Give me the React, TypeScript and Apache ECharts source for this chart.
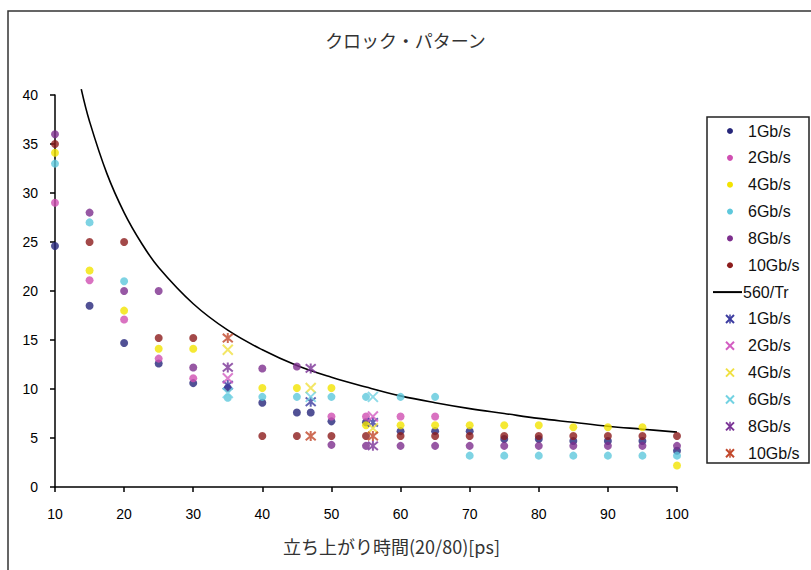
import React, { useEffect, useRef } from "react";
import * as echarts from "echarts";

// ---- data ----
const titleText = "クロック・パターン";
const xAxisName = "立ち上がり時間(20/80)[ps]";
const xTicks = { min: 10, max: 100, interval: 10 };
const yTicks = { min: 0, max: 40, interval: 5 };

const dot1G: [number, number][] = [[10, 24.6], [15, 18.5], [20, 14.7], [25, 12.6], [30, 10.6], [35, 10.1], [40, 8.6], [45, 7.6], [47, 7.6], [50, 6.7], [55, 6.6], [60, 5.7], [65, 5.7], [70, 5.7], [75, 4.9], [80, 4.9], [85, 4.7], [90, 4.7], [95, 4.7], [100, 3.7]];
const dot2G: [number, number][] = [[10, 29], [15, 21.1], [20, 17.1], [25, 13.1], [30, 11.1], [50, 7.2], [55, 7.2], [60, 7.2], [65, 7.2]];
const dot4G: [number, number][] = [[10, 34.1], [15, 22.1], [20, 18], [25, 14.1], [30, 14.1], [40, 10.1], [45, 10.1], [50, 10.1], [55, 6.3], [60, 6.3], [65, 6.3], [70, 6.3], [75, 6.3], [80, 6.3], [85, 6.1], [90, 6.1], [95, 6.1], [100, 2.2]];
const dot6G: [number, number][] = [[10, 33], [15, 27], [20, 21], [35, 9.1], [40, 9.2], [45, 9.2], [50, 9.2], [55, 9.2], [60, 9.2], [65, 9.2], [70, 3.2], [75, 3.2], [80, 3.2], [85, 3.2], [90, 3.2], [95, 3.2], [100, 3.2]];
const dot8G: [number, number][] = [[10, 36], [15, 28], [20, 20], [25, 20], [30, 12.2], [40, 12.1], [45, 12.3], [50, 4.3], [55, 4.2], [60, 4.2], [65, 4.2], [70, 4.2], [75, 4.2], [80, 4.2], [85, 4.2], [90, 4.2], [95, 4.2], [100, 4.2]];
const dot10G: [number, number][] = [[10, 35], [15, 25], [20, 25], [25, 15.2], [30, 15.2], [40, 5.2], [45, 5.2], [50, 5.2], [55, 5.2], [60, 5.2], [65, 5.2], [70, 5.2], [75, 5.2], [80, 5.2], [85, 5.2], [90, 5.2], [95, 5.2], [100, 5.2]];

const curve560: [number, number][] = [[13.8, 40.6], [15, 37.3], [17.5, 32], [20, 28], [22.5, 24.9], [25, 22.4], [30, 18.7], [35, 16], [40, 14], [45, 12.4], [50, 11.2], [55, 10.2], [60, 9.3], [65, 8.6], [70, 8], [75, 7.5], [80, 7], [85, 6.6], [90, 6.2], [95, 5.9], [100, 5.6]];

const x1G: [number, number][] = [[35, 10.4], [47, 8.7], [56, 6.6]];
const x2G: [number, number][] = [[35, 11.1], [56, 7.2]];
const x4G: [number, number][] = [[35, 14], [47, 10.1], [56, 6.0]];
const x6G: [number, number][] = [[35, 9.6], [47, 9.2], [56, 9.2]];
const x8G: [number, number][] = [[35, 12.2], [47, 12.1], [56, 4.2]];
const x10G: [number, number][] = [[35, 15.2], [47, 5.2], [56, 5.2]];

const dotNames = ["1Gb/s", "2Gb/s", "4Gb/s", "6Gb/s", "8Gb/s", "10Gb/s"];
const lineName = "560/Tr";
const crossNames = ["1Gb/s", "2Gb/s", "4Gb/s", "6Gb/s", "8Gb/s", "10Gb/s"];

// ---- styles ----
const dotColors = ["#26267a", "#d04fb2", "#f3e300", "#5ec8dc", "#7d2e8d", "#8c1c1c"];
const crossColors = ["#3c3ca0", "#d35ec2", "#f0e040", "#72d2e2", "#7a3396", "#c2472b"];
const crossIsStar = [true, false, false, false, true, true];
const STAR = "path://M0,0L10,10M10,0L0,10M5,-1L5,11";
const XSYM = "path://M0,0L10,10M10,0L0,10";
const FONT = "'Liberation Sans', Arial, sans-serif";
const CJK = "'Noto Sans CJK JP', 'Noto Sans', sans-serif";

export default function App() {
  const ref = useRef<HTMLDivElement>(null);
  useEffect(() => {
    if (!ref.current) return;
    const chart = echarts.init(ref.current, null, { renderer: "svg" });
    const dotData = [dot1G, dot2G, dot4G, dot6G, dot8G, dot10G];
    const crossData = [x1G, x2G, x4G, x6G, x8G, x10G];

    const series: any[] = [];
    dotData.forEach((d, i) => {
      series.push({
        type: "scatter",
        name: dotNames[i],
        data: d,
        symbol: "circle",
        symbolSize: 8,
        itemStyle: { color: dotColors[i] },
        z: 3,
      });
    });
    series.push({
      type: "line",
      name: lineName,
      data: curve560,
      smooth: 0.4,
      symbol: "none",
      clip: false,
      lineStyle: { color: "#000", width: 1.6 },
      z: 2,
    });
    crossData.forEach((d, i) => {
      series.push({
        type: "scatter",
        name: crossNames[i],
        data: d,
        symbol: crossIsStar[i] ? STAR : XSYM,
        symbolSize: 10,
        itemStyle: { color: crossColors[i], borderColor: crossColors[i], borderWidth: 2 },
        z: 4,
      });
    });

    // custom legend drawn as graphics (duplicate names in the original legend)
    const legendEls: any[] = [];
    const rowY0 = 131;
    const rowStep = 26.85;
    const mx = 730;
    const tx = 748;
    const rows: any[] = [];
    dotNames.forEach((n, i) => rows.push({ kind: "dot", label: n, color: dotColors[i] }));
    rows.push({ kind: "line", label: lineName, color: "#000" });
    crossNames.forEach((n, i) => rows.push({ kind: crossIsStar[i] ? "star" : "x", label: n, color: crossColors[i] }));

    legendEls.push({
      type: "rect",
      shape: { x: 707, y: 117, width: 102, height: 346 },
      style: { fill: "#fff", stroke: "#222", lineWidth: 1.5 },
      z: 10,
    });
    rows.forEach((r, i) => {
      const y = rowY0 + i * rowStep;
      if (r.kind === "dot") {
        legendEls.push({ type: "circle", shape: { cx: mx, cy: y, r: 3 }, style: { fill: r.color }, z: 11 });
      } else if (r.kind === "line") {
        legendEls.push({ type: "line", shape: { x1: 713, y1: y, x2: 742, y2: y }, style: { stroke: "#000", lineWidth: 2 }, z: 11 });
      } else {
        const s = 4;
        legendEls.push({ type: "line", shape: { x1: mx - s, y1: y - s, x2: mx + s, y2: y + s }, style: { stroke: r.color, lineWidth: 2 }, z: 11 });
        legendEls.push({ type: "line", shape: { x1: mx + s, y1: y - s, x2: mx - s, y2: y + s }, style: { stroke: r.color, lineWidth: 2 }, z: 11 });
        if (r.kind === "star") {
          legendEls.push({ type: "line", shape: { x1: mx, y1: y - s - 0.5, x2: mx, y2: y + s + 0.5 }, style: { stroke: r.color, lineWidth: 1.5 }, z: 11 });
        }
      }
      legendEls.push({
        type: "text",
        x: r.kind === "line" ? 743 : tx,
        y,
        style: {
          text: r.label,
          fill: "#111",
          font: `16px ${FONT}`,
          textVerticalAlign: "middle",
          textAlign: "left",
        },
        z: 11,
      });
    });

    chart.setOption({
      animation: false,
      backgroundColor: "#fff",
      title: {
        text: titleText,
        left: "center",
        top: 31,
        padding: [0, 16, 0, 0],
        textStyle: { fontFamily: CJK, fontSize: 18, fontWeight: "normal", color: "#333" },
      },
      grid: { left: 55, right: 134, top: 95, bottom: 83, containLabel: false },
      xAxis: {
        type: "value",
        min: xTicks.min,
        max: xTicks.max,
        interval: xTicks.interval,
        name: xAxisName,
        nameLocation: "middle",
        nameGap: 50,
        nameTextStyle: { fontFamily: CJK, fontSize: 18, color: "#333", padding: [0, 0, 0, 51] },
        axisLine: { lineStyle: { color: "#000", width: 1.5 } },
        axisTick: { show: true, length: 5, lineStyle: { color: "#000", width: 1.5 } },
        axisLabel: { color: "#000", fontFamily: FONT, fontSize: 14, margin: 20 },
        splitLine: { show: false },
      },
      yAxis: {
        type: "value",
        min: yTicks.min,
        max: yTicks.max,
        interval: yTicks.interval,
        axisLine: { show: true, lineStyle: { color: "#000", width: 1.5 } },
        axisTick: { show: true, length: 5, lineStyle: { color: "#000", width: 1.5 } },
        axisLabel: { color: "#000", fontFamily: FONT, fontSize: 14, margin: 17 },
        splitLine: { show: false },
      },
      series,
      graphic: [
        {
          type: "polyline",
          shape: { points: [[8, 620], [8, 11], [830, 11]] },
          style: { stroke: "#333", lineWidth: 1.5, fill: "none" },
          z: 10,
        },
        ...legendEls,
      ],
    });
    return () => chart.dispose();
  }, []);
  return (
    <div
      ref={ref}
      style={{ position: "fixed", left: 0, top: 0, width: 811, height: 570 }}
    />
  );
}
